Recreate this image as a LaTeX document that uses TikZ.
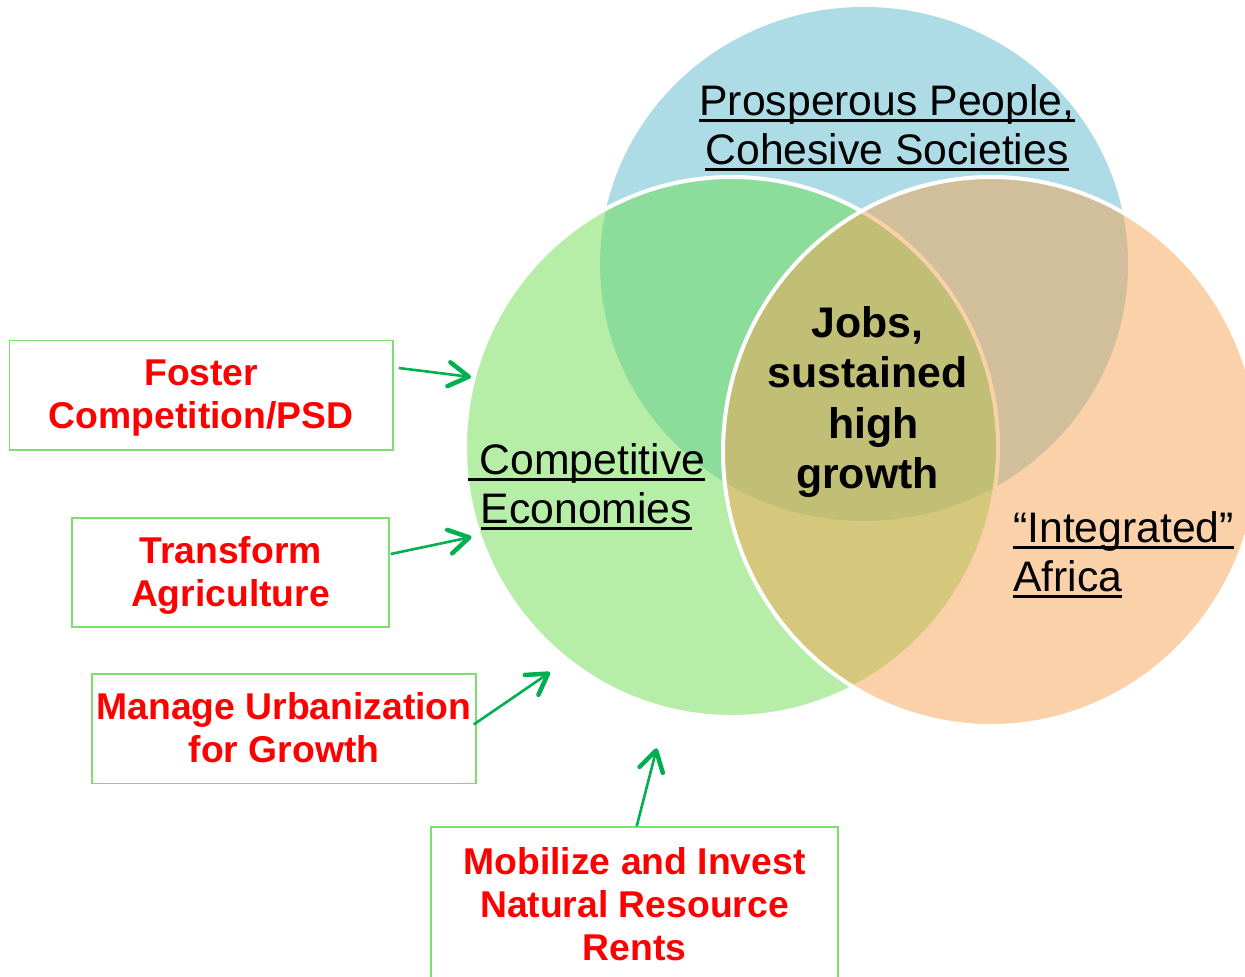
\documentclass[tikz,border=0pt]{standalone}
\usepackage{fontspec}
\setmainfont{Liberation Sans}
\usetikzlibrary{arrows.meta,calc}
\definecolor{cblue}{RGB}{173,220,230}
\definecolor{cgreen}{RGB}{109,221,81}
\definecolor{corange}{RGB}{245,163,81}
\definecolor{boxgreen}{RGB}{125,222,112}
\definecolor{arrgreen}{RGB}{0,176,80}
\definecolor{txtred}{RGB}{255,0,0}
\newsavebox\ulbox
\newcommand\ulx[1]{\sbox\ulbox{#1}\rlap{\rule[-6.5pt]{\wd\ulbox}{3pt}}\usebox\ulbox}
\newcommand\topstr{\rule{0pt}{32pt}}
\newcommand\botstr{\rule[-8pt]{0pt}{8pt}}
\begin{document}
\begin{tikzpicture}[x=1pt,y=-1pt,
  venn/.style={draw=white, line width=4pt},
  goalbox/.style={draw=boxgreen, line width=1.5pt, rectangle, inner sep=0pt, align=center, text=txtred, font=\fontsize{37.3}{43}\selectfont\bfseries},
  circtext/.style={inner sep=0pt, font=\fontsize{42.7}{49.5}\selectfont},
  jobtext/.style={inner sep=0pt, align=center, font=\fontsize{42.8}{50.5}\selectfont\bfseries},
  arr/.style={draw=arrgreen, line width=2.6pt, -{Straight Barb[length=20pt,width=24pt,line width=4.5pt,round]}}
]
\useasboundingbox (0,0) rectangle (1245,977);
% circles
\fill[cblue] (864,264) ellipse [x radius=264, y radius=257];
\path[venn, fill=cgreen, fill opacity=0.5] (731.5,447) ellipse [x radius=266.5, y radius=270];
\path[venn, fill=corange, fill opacity=0.5] (991,451.5) ellipse [x radius=268, y radius=274.5];
% circle labels
\node[circtext, align=center] (ppl) at (887,128) {\ulx{Prosperous People,}\\\ulx{Cohesive Societies}};
\node[circtext, align=center] (comp) at (586.5,487) {\ulx{\ Competitive}\\\ulx{Economies}};
\node[circtext, align=left, anchor=west] (integ) at (1013,555) {\ulx{“Integrated”}\\\ulx{Africa}};
\node[jobtext] (jobs) at (867.5,402) {Jobs,\\sustained\\\hspace*{11.9pt}high\\growth};
% boxes
\node[goalbox, minimum width=383.5pt, minimum height=109.5pt] (b1) at (201.25,395.25) {\topstr Foster\\Competition/PSD\botstr};
\node[goalbox, minimum width=317pt, minimum height=109pt] (b2) at (230.5,572.5) {\topstr Transform\\Agriculture\botstr};
\node[goalbox, minimum width=384pt, minimum height=109.5pt] (b3) at (284,728.5) {\topstr Manage Urbanization\\for Growth\botstr};
\node[goalbox, minimum width=407pt, minimum height=157pt] (b4) at (634.5,905.5) {\topstr Mobilize and Invest\\Natural Resource\\Rents\botstr};
% arrows
\coordinate (t1) at (471,377);
\coordinate (t2) at (471.5,537);
\coordinate (t3) at (550,672.3);
\coordinate (t4) at (656.7,748.3);
\draw[arr] ($(b1.east)+(5,-27.25)$) -- (t1);
\draw[arr] ($(b2.east)+(1,-18.5)$) -- (t2);
\draw[arr] ($(b3.east)+(-3,-4)$) -- (t3);
\draw[arr] ($(b4.north)+(2.2,0)$) -- (t4);
\end{tikzpicture}
\end{document}
